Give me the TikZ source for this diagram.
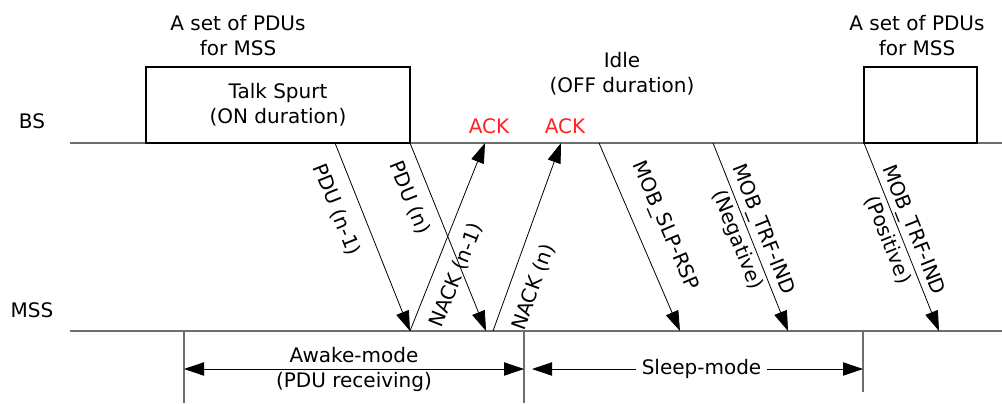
\documentclass[tikz,border=0pt]{standalone}
\usepackage{fontspec}
\setmainfont{DejaVu Sans}
\usetikzlibrary{arrows.meta}
\definecolor{axisgray}{HTML}{6E6E6E}
\definecolor{ackred}{HTML}{FF2222}
\begin{document}
\begin{tikzpicture}[
  x=0.75pt, y=-0.75pt,
  font=\fontsize{15}{18.75}\selectfont,
  timeline/.style={draw=axisgray, line width=1.4pt},
  msg/.style={draw, line width=0.6pt, -{Triangle[length=15pt,width=10pt]}},
  span/.style={draw, line width=0.6pt,
    {Triangle[length=15pt,width=10pt]}-{Triangle[length=15pt,width=10pt]}},
  burst/.style={draw, line width=0.9pt, inner sep=0pt, align=center},
  lbl/.style={sloped, inner sep=0pt},
  twoline/.style={lbl, align=center, font=\fontsize{15}{21}\selectfont},
  plain/.style={inner sep=0pt, align=center},
  ack/.style={inner sep=0pt, text=ackred}
]
\path[use as bounding box] (0,0) rectangle (1002,403);

% time axes of the two stations
\coordinate (bsL) at (70,143);  \coordinate (bsR) at (1002,143);
\coordinate (msL) at (70,331);  \coordinate (msR) at (1002,331);
\draw[timeline] (bsL) -- (bsR);
\draw[timeline] (msL) -- (msR);
\node[plain] (bs)  at (32,121) {BS};
\node[plain] (mss) at (32,310) {MSS};

% PDU bursts on the BS side
\node[burst, minimum width=198pt, minimum height=57pt] (spurt) at (278,105)
  {Talk Spurt\\(ON duration)};
\node[burst, minimum width=84.75pt, minimum height=57pt] (next) at (920.5,105) {};
\node[plain] (set1) at (238,36) {A set of PDUs\\for MSS};
\node[plain] (set2) at (917,36) {A set of PDUs\\for MSS};
\node[plain] (idle) at (622,74) {Idle\\(OFF duration)};
\node[ack] (ack1) at (489,126) {ACK};
\node[ack] (ack2) at (565,126) {ACK};

% message end points
\coordinate (p1s) at (335,143); \coordinate (p1e) at (410,331);
\coordinate (p2s) at (410,143); \coordinate (p2e) at (486,331);
\coordinate (n1s) at (410,331); \coordinate (n1e) at (485,143);
\coordinate (n2s) at (493,331); \coordinate (n2e) at (561,143);
\coordinate (s1s) at (599,143); \coordinate (s1e) at (680,331);
\coordinate (t1s) at (713,143); \coordinate (t1e) at (788,331);
\coordinate (t2s) at (864,143); \coordinate (t2e) at (939,331);

% messages
\draw[msg] (p1s) -- node[lbl, pos=0.31, below=10.5pt] {PDU (n-1)} (p1e);
\draw[msg] (p2s) -- node[lbl, pos=0.25, below=8.7pt] {PDU (n)} (p2e);
\draw[msg] (n1s) -- node[lbl, pos=0.34, below=10pt] {NACK (n-1)} (n1e);
\draw[msg] (n2s) -- node[lbl, pos=0.275, below=10.5pt] {NACK (n)} (n2e);
\draw[msg] (s1s) -- node[lbl, pos=0.5, above=13pt] {MOB\_SLP-RSP} (s1e);
\draw[msg] (t1s) -- node[twoline, pos=0.49] {MOB\_TRF-IND\\(Negative)} (t1e);
\draw[msg] (t2s) -- node[twoline, pos=0.49] {MOB\_TRF-IND\\(Positive)} (t2e);

% mode boundaries below the MSS axis
\coordinate (v1t) at (184,331); \coordinate (v1b) at (184,403);
\coordinate (v2t) at (524,331); \coordinate (v2b) at (524,403);
\coordinate (v3t) at (863,331); \coordinate (v3b) at (863,392);
\draw[timeline] (v1t) -- (v1b);
\draw[timeline] (v2t) -- (v2b);
\draw[timeline] (v3t) -- (v3b);

% mode spans
\coordinate (awL) at (184,369); \coordinate (awR) at (524,369);
\coordinate (slL) at (532,369); \coordinate (slR) at (863,369);
\draw[span] (awL) -- node[plain] (awake) {Awake-mode\\(PDU receiving)} (awR);
\draw[span] (slL) -- node[fill=white, inner xsep=4pt, inner ysep=0pt, xshift=3pt] (sleep) {Sleep-mode} (slR);
\end{tikzpicture}
\end{document}
